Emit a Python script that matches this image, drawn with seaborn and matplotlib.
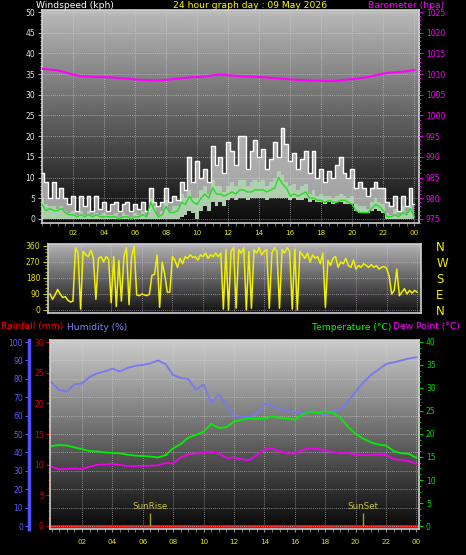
import numpy as np
import matplotlib
matplotlib.use("Agg")
import matplotlib.pyplot as plt
import seaborn as sns
from matplotlib.ticker import MultipleLocator

# ---------------- data ----------------
# time grids (hours after midnight)
wind_hours = np.linspace(0, 24, 97)      # 15 min
dir_hours = np.linspace(0, 24, 145)      # 10 min
th_hours = np.linspace(0, 24, 49)        # 30 min

# wind (kph)
wind_gust = [11, 9, 5, 9, 5, 7.5, 5, 3.5,
             5.5, 2, 5.5, 3, 5.5, 2, 5.5, 2.5,
             4, 2, 3.5, 4, 2, 3.5, 4, 2,
             3.5, 2.5, 4, 2, 7.5, 4, 3, 4,
             7.5, 4, 5.5, 4.5, 9, 7, 15, 9,
             14, 10, 12, 9, 17.5, 13, 15, 11,
             18.5, 16.5, 13, 20, 20, 12, 16.5, 19,
             15, 17, 12, 14.5, 18.5, 15, 22, 18,
             14, 16, 12, 14.5, 16.5, 11, 16.5, 10,
             12, 9, 11.5, 10, 13, 15, 11, 10,
             12, 7.5, 9, 7.5, 5.5, 7.5, 9, 7.5,
             7.5, 4, 3, 5.5, 2, 5.5, 3, 7.5,
             3.5]
wind_speed = [5, 3.5, 3, 3, 2.5, 3, 2, 1.5,
              2, 1, 2, 1, 2, 1, 1.5, 1,
              1.5, 1, 1, 1.5, 0.5, 1.5, 1, 0.5,
              1.5, 1, 2, 1, 5, 3, 1, 2,
              4.5, 2, 3, 3, 6, 5, 7, 5,
              5, 7, 8, 6, 9.5, 8, 8, 6.5,
              8, 9, 8, 9.5, 9.5, 8, 9, 9.5,
              9, 9.5, 8, 9, 10, 11.5, 10.5, 9,
              8, 8.5, 7, 8, 8.5, 6, 7, 5.5,
              6, 5.5, 5.5, 5, 5.5, 6, 5.5, 5,
              5.5, 3.5, 3, 3, 2.5, 4, 5, 4,
              3.5, 1.5, 1, 2.5, 1, 3, 1.5, 3,
              1]
wind_avg = [3.5, 2, 2.5, 2, 2, 2.5, 1.5, 1,
            1, 0.5, 1, 0.5, 1, 0.5, 1, 0.5,
            0.5, 0.5, 0.5, 0.5, 0, 0.5, 0.5, 0,
            0.5, 0.5, 1, 0.5, 4, 2, 0.5, 1,
            3, 1.5, 1.5, 2, 4, 3.5, 5.5, 4,
            3.5, 5, 6, 5, 7.5, 6, 6, 5.5,
            6, 6.5, 6, 7, 7, 6.5, 6.5, 7,
            7, 7, 6.5, 7, 7.5, 10, 8.5, 7.5,
            5.5, 6, 5.5, 6, 6.5, 5, 5, 4.5,
            4.5, 4, 4.5, 4, 4, 4.5, 4.5, 4,
            3.5, 2, 1.5, 1.5, 1.5, 2.5, 3.5, 3,
            2, 0.5, 0.5, 1, 0.5, 1.5, 1, 2.5,
            0.5]
wind_lull = [0, 0, 0, 0, 0, 0, 0, 0,
             0, 0, 0, 0, 0, 0, 0, 0,
             0, 0, 0, 0, 0, 0, 0, 0,
             0, 0, 0, 0, 0, 0, 0, 0,
             0, 0, 0, 0, 0.5, 1, 2, 1.5,
             0, 2, 3, 2, 4, 3, 4, 3,
             4.5, 5, 4.5, 5, 5, 4.5, 5, 5,
             5, 5, 4.5, 5, 5, 5, 5, 5,
             4.5, 5, 4.5, 4.5, 5, 4, 4.5, 4,
             4, 3.5, 4, 3.5, 4, 4, 3.5, 3.5,
             3.5, 2, 1.5, 1.5, 1.5, 2, 2.5, 2,
             1.5, 0, 0, 0, 0, 0, 0, 0,
             0]

# barometer (hPa)
baro = [1011.3, 1011.1, 1010.9, 1010.4, 1009.9, 1009.5, 1009.4, 1009.3,
        1009.3, 1009.2, 1009.0, 1008.9, 1008.7, 1008.6, 1008.5, 1008.5,
        1008.6, 1008.8, 1009.0, 1009.2, 1009.3, 1009.4, 1009.7, 1009.9,
        1009.7, 1009.6, 1009.4, 1009.4, 1009.3, 1009.2, 1009.0, 1008.9,
        1008.7, 1008.6, 1008.5, 1008.4, 1008.4, 1008.3, 1008.4, 1008.6,
        1008.8, 1009.0, 1009.3, 1009.7, 1010.1, 1010.4, 1010.5, 1010.7,
        1011.0]

# wind direction (degrees)
wind_dir = [90, 60, 85, 115, 90, 70,
            75, 55, 45, 50, 350, 320,
            5, 330, 310, 300, 335, 295,
            60, 290, 300, 270, 300, 285,
            40, 300, 20, 280, 50, 300,
            350, 30, 300, 360, 85, 80,
            90, 85, 80, 90, 195, 200,
            310, 15, 270, 200, 100, 100,
            300, 280, 240, 290, 260, 300,
            290, 310, 295, 300, 280, 310,
            300, 320, 290, 310, 300, 320,
            300, 320, 5, 340, 0, 330,
            350, 10, 340, 320, 350, 0,
            330, 10, 340, 320, 350, 310,
            330, 340, 10, 320, 350, 330,
            10, 340, 320, 350, 330, 5,
            340, 0, 330, 310, 290, 320,
            270, 310, 290, 300, 260, 320,
            15, 280, 250, 290, 300, 240,
            270, 260, 290, 250, 240, 280,
            230, 250, 240, 260, 250, 240,
            255, 240, 250, 230, 240, 245,
            235, 190, 90, 110, 230, 80,
            100, 120, 90, 110, 95, 110,
            100]

# humidity (%), temperature and dew point (deg C)
humidity = [78, 74, 73, 77, 77.5, 81, 83, 84, 85.5, 84,
            86, 87, 87.5, 88.4, 90, 88, 82, 80.5, 80, 74,
            77, 67, 71.5, 66, 60, 59.5, 59.5, 61, 66.5, 65.5,
            63.5, 62.5, 62, 61.5, 62, 62, 60, 62.5, 63.5, 67.5,
            73, 78, 82, 85, 88, 89, 90, 91, 91.7]
temperature = [17.4, 17.6, 17.5, 17.1, 16.7, 16.3, 16.2, 16.0, 15.9, 15.8,
               15.5, 15.3, 15.2, 15.1, 14.9, 15.4, 16.9, 17.8, 19.2, 19.8,
               20.5, 22.2, 21.3, 21.5, 22.7, 23.1, 23.4, 23.3, 23.4, 23.8,
               23.5, 23.4, 23.1, 24.2, 24.9, 24.6, 24.9, 24.6, 23.5, 21.6,
               20.0, 19.0, 18.2, 17.7, 17.5, 16.3, 15.8, 15.7, 14.8]
dew_point = [12.9, 12.3, 12.4, 12.5, 12.4, 12.9, 13.3, 13.4, 13.5, 13.3,
             13.0, 13.0, 13.1, 13.1, 13.2, 13.7, 13.6, 14.9, 15.6, 15.8,
             15.9, 16.2, 15.8, 14.8, 14.9, 14.5, 14.3, 15.4, 16.6, 16.9,
             16.2, 15.8, 15.8, 16.5, 16.9, 16.8, 16.4, 16.1, 15.8, 15.9,
             15.5, 15.4, 15.4, 15.5, 15.5, 14.5, 14.4, 14.1, 13.5]

# rainfall (mm)
rain_hours = [0, 24]
rain_mm = [0, 0]

sun_hours = [6.47, 20.47]
sun_labels = ['SunRise', 'SunSet']

xtick_hours = [2, 4, 6, 8, 10, 12, 14, 16, 18, 20, 22, 24]
xtick_labels = ['02', '04', '06', '08', '10', '12', '14', '16', '18', '20', '22', '00']
dir_ticks = [0, 90, 180, 270, 360]
compass = ['N', 'E', 'S', 'W', 'N']

# ---------------- figure ----------------
W, H = 466, 555
fig = plt.figure(figsize=(W / 100, H / 100), dpi=100, facecolor='black')


def box(l, t, r, b):
    return [l / W, 1 - b / H, (r - l) / W, (b - t) / H]


def shade(ax, top, bottom):
    grad = np.linspace(top, bottom, 256).reshape(-1, 1)
    ax.imshow(grad, cmap='gray', vmin=0, vmax=1, aspect='auto',
              extent=[0, 1, 0, 1], transform=ax.transAxes, zorder=0)


def frame(ax, color='#d0d0d0'):
    for s in ax.spines.values():
        s.set_color(color)
        s.set_linewidth(1.2)


def hide_spines(ax):
    for s in ax.spines.values():
        s.set_visible(False)


grid_kw = dict(color='#d8d8d8', ls=(0, (1, 1.5)), lw=0.6, alpha=0.7)
yellow = '#e6e600'
head_fs = 6.6

# ---- top panel: wind speed + barometer ----
ax1 = fig.add_axes(box(42, 10, 419, 223))
shade(ax1, 0.73, 0.04)
ax1.fill_between(wind_hours, wind_lull, wind_gust, step='mid',
                 color='#d8d8d8', alpha=0.72, lw=0, zorder=2)
ax1.fill_between(wind_hours, wind_lull, wind_speed, step='mid',
                 color='#b8ecb8', alpha=0.6, lw=0, zorder=3)
sns.lineplot(x=wind_hours, y=wind_gust, ax=ax1, color='white', lw=1,
             drawstyle='steps-mid', zorder=4)
sns.lineplot(x=wind_hours, y=wind_avg, ax=ax1, color='#22dd22', lw=1, zorder=5)
ax1.set_xlim(0, 24.3)
ax1.set_ylim(-1, 50.5)
ax1.set_yticks(range(0, 51, 5))
ax1.yaxis.set_minor_locator(MultipleLocator(1))
ax1.set_xticks(xtick_hours)
ax1.set_xticklabels(xtick_labels)
ax1.xaxis.set_minor_locator(MultipleLocator(0.5))
ax1.tick_params(axis='y', which='both', colors='#b0b0b0', labelcolor='#d8e4f0',
                labelsize=5.5, length=3, pad=2)
ax1.tick_params(axis='y', which='minor', length=1.5)
ax1.tick_params(axis='x', which='both', colors='#909090', labelcolor=yellow,
                labelsize=5.2, length=2, pad=3)
ax1.grid(True, which='major', **grid_kw)
ax1.set_xlabel('')
ax1.set_ylabel('')
frame(ax1)

ax1b = ax1.twinx()
sns.lineplot(x=th_hours, y=baro, ax=ax1b, color='#ff00ff', lw=1.5)
ax1b.set_ylim(974, 1025.5)
ax1b.set_yticks(range(975, 1026, 5))
ax1b.yaxis.set_minor_locator(MultipleLocator(1))
ax1b.tick_params(axis='y', which='both', colors='#e000e0', labelcolor='#ff00ff',
                 labelsize=5.5, length=3, pad=2)
ax1b.tick_params(axis='y', which='minor', length=1.5)
ax1b.set_ylabel('')
hide_spines(ax1b)

# ---- middle panel: wind direction ----
ax2 = fig.add_axes(box(48, 244, 421, 313))
shade(ax2, 0.70, 0.07)
sns.lineplot(x=dir_hours, y=wind_dir, ax=ax2, color='#f0f000', lw=1.1, zorder=3)
ax2.set_xlim(-0.13, 24.25)
ax2.set_ylim(-17, 371)
ax2.set_xticks(xtick_hours)
ax2.set_xticklabels([])
ax2.tick_params(axis='x', length=0)
ax2.set_yticks(dir_ticks)
ax2.yaxis.set_minor_locator(MultipleLocator(18))
ax2.tick_params(axis='y', which='both', colors='#c8c800', labelcolor=yellow,
                labelsize=5.5, length=3.5, pad=2)
ax2.tick_params(axis='y', which='minor', length=2)
ax2.grid(True, which='major', color='#e0c8e8', ls=(0, (1, 1.5)), lw=0.6, alpha=0.7)
ax2.set_xlabel('')
ax2.set_ylabel('')
frame(ax2)

ax2b = ax2.twinx()
ax2b.set_ylim(-17, 371)
ax2b.set_yticks(dir_ticks)
ax2b.set_yticklabels(compass)
ax2b.tick_params(axis='y', length=0, pad=11, labelcolor='#f0f000', labelsize=8.5)
hide_spines(ax2b)

# ---- bottom panel: rain, humidity, temperature, dew point ----
ax3 = fig.add_axes(box(50, 340, 419, 529))
shade(ax3, 0.80, 0.03)
ax3.set_xlim(-0.1, 24.17)
ax3.set_ylim(-0.49, 30.33)
sns.lineplot(x=rain_hours, y=rain_mm, ax=ax3, color='#ff0000', lw=2.2, zorder=3)
ax3.set_yticks(range(0, 31, 5))
ax3.yaxis.set_minor_locator(MultipleLocator(1.25))
ax3.tick_params(axis='y', which='both', colors='#e00000', labelcolor='#e00000',
                labelsize=5.5, length=3, pad=1.5)
ax3.tick_params(axis='y', which='minor', length=1.5)
ax3.set_xticks(xtick_hours)
ax3.set_xticklabels(xtick_labels)
ax3.xaxis.set_minor_locator(MultipleLocator(0.5))
ax3.tick_params(axis='x', which='both', colors='#909090', labelcolor=yellow,
                labelsize=5.2, length=2, pad=5)
ax3.grid(True, axis='x', which='major', **grid_kw)
ax3.set_xlabel('')
ax3.set_ylabel('')
frame(ax3)

ax3h = ax3.twinx()
sns.lineplot(x=th_hours, y=humidity, ax=ax3h, color='#7878f0', lw=1.3)
ax3h.set_ylim(-1.6, 101.1)
ax3h.yaxis.set_ticks_position('left')
ax3h.yaxis.set_label_position('left')
hide_spines(ax3h)
ax3h.spines['left'].set_visible(True)
ax3h.spines['left'].set_position(('outward', 15))
ax3h.spines['left'].set_color('#5050ff')
ax3h.spines['left'].set_linewidth(2.5)
ax3h.set_yticks(range(0, 101, 10))
ax3h.tick_params(axis='y', colors='#5050ff', labelcolor='#5a5aff',
                 labelsize=5.5, length=3, pad=1.5)
ax3h.grid(True, axis='y', **grid_kw)
ax3h.set_ylabel('')

ax3t = ax3.twinx()
sns.lineplot(x=th_hours, y=temperature, ax=ax3t, color='#00f000', lw=1.3)
sns.lineplot(x=th_hours, y=dew_point, ax=ax3t, color='#f000f0', lw=1.3)
ax3t.set_ylim(-0.65, 40.43)
ax3t.set_yticks(range(0, 41, 5))
ax3t.yaxis.set_minor_locator(MultipleLocator(1.25))
ax3t.tick_params(axis='y', which='both', colors='#00d000', labelcolor='#00e000',
                 labelsize=5.5, length=3, pad=2)
ax3t.tick_params(axis='y', which='minor', length=1.5)
ax3t.set_ylabel('')
hide_spines(ax3t)
ax3t.vlines(sun_hours, 0, 2.8, color='#a0a020', lw=1, zorder=4)
for h, lab in zip(sun_hours, sun_labels):
    ax3t.text(h, 4.2, lab, color='#c8c040', fontsize=6.3, ha='center', va='center')

# ---- header texts ----
fig.text(75 / W, 1 - 5 / H, 'Windspeed (kph)', color='white', fontsize=head_fs,
         ha='center', va='center')
fig.text(250 / W, 1 - 5 / H, '24 hour graph day : 09 May 2026', color='#ffff00',
         fontsize=head_fs, ha='center', va='center')
fig.text(406 / W, 1 - 5 / H, 'Barometer (hpa)', color='#ff00ff', fontsize=head_fs,
         ha='center', va='center')
fig.text(1 / W, 1 - 327 / H, 'Rainfall (mm)', color='#ff0000', fontsize=head_fs,
         ha='left', va='center')
fig.text(67 / W, 1 - 327 / H, 'Humidity (%)', color='#8080ff', fontsize=head_fs,
         ha='left', va='center')
fig.text(391 / W, 1 - 327 / H, 'Temperature (°C)', color='#00ff00', fontsize=head_fs,
         ha='right', va='center')
fig.text(393 / W, 1 - 327 / H, 'Dew Point (°C)', color='#ff00ff', fontsize=head_fs,
         ha='left', va='center')

fig.savefig('out.png', dpi=100, facecolor='black')
